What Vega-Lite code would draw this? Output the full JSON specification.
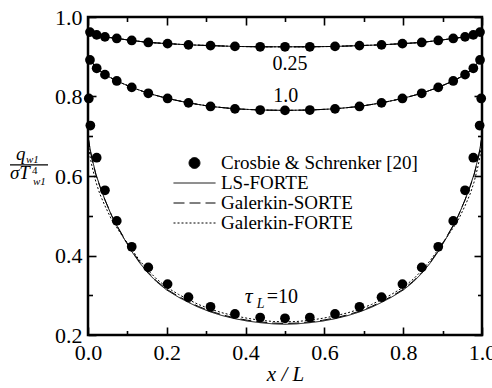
{
  "$schema": "https://vega.github.io/schema/vega-lite/v6.json",
  "width": 394,
  "height": 318,
  "autosize": {"type": "none"},
  "padding": {"left": 88, "top": 17, "right": 10, "bottom": 53},
  "background": "white",
  "config": {
    "view": {"stroke": "black", "strokeWidth": 2.5},
    "axis": {
      "grid": false,
      "domain": false,
      "tickColor": "black",
      "tickWidth": 1.6,
      "labelColor": "black",
      "labelFont": "Liberation Serif",
      "labelFontSize": 22,
      "labelOverlap": false,
      "labelFlush": false,
      "labelBound": false,
      "titleColor": "black",
      "titleFont": "Liberation Serif",
      "titleFontWeight": "normal"
    }
  },
  "datasets": {
    "dots": [
      {"s": "0.25", "x": 0.005, "y": 0.962}, {"s": "0.25", "x": 0.022, "y": 0.955}, {"s": "0.25", "x": 0.043, "y": 0.950}, {"s": "0.25", "x": 0.073, "y": 0.946}, {"s": "0.25", "x": 0.111, "y": 0.941}, {"s": "0.25", "x": 0.153, "y": 0.936}, {"s": "0.25", "x": 0.202, "y": 0.933}, {"s": "0.25", "x": 0.255, "y": 0.930}, {"s": "0.25", "x": 0.311, "y": 0.928}, {"s": "0.25", "x": 0.373, "y": 0.926}, {"s": "0.25", "x": 0.437, "y": 0.925}, {"s": "0.25", "x": 0.5, "y": 0.925}, {"s": "0.25", "x": 0.563, "y": 0.925}, {"s": "0.25", "x": 0.627, "y": 0.926}, {"s": "0.25", "x": 0.689, "y": 0.928}, {"s": "0.25", "x": 0.745, "y": 0.930}, {"s": "0.25", "x": 0.798, "y": 0.933}, {"s": "0.25", "x": 0.847, "y": 0.936}, {"s": "0.25", "x": 0.889, "y": 0.941}, {"s": "0.25", "x": 0.927, "y": 0.946}, {"s": "0.25", "x": 0.957, "y": 0.950}, {"s": "0.25", "x": 0.978, "y": 0.955}, {"s": "0.25", "x": 0.995, "y": 0.962},
      {"s": "1.0", "x": 0.005, "y": 0.892}, {"s": "1.0", "x": 0.022, "y": 0.871}, {"s": "1.0", "x": 0.043, "y": 0.855}, {"s": "1.0", "x": 0.073, "y": 0.839}, {"s": "1.0", "x": 0.111, "y": 0.823}, {"s": "1.0", "x": 0.153, "y": 0.808}, {"s": "1.0", "x": 0.202, "y": 0.795}, {"s": "1.0", "x": 0.255, "y": 0.784}, {"s": "1.0", "x": 0.311, "y": 0.775}, {"s": "1.0", "x": 0.373, "y": 0.769}, {"s": "1.0", "x": 0.437, "y": 0.766}, {"s": "1.0", "x": 0.5, "y": 0.765}, {"s": "1.0", "x": 0.563, "y": 0.766}, {"s": "1.0", "x": 0.627, "y": 0.769}, {"s": "1.0", "x": 0.689, "y": 0.775}, {"s": "1.0", "x": 0.745, "y": 0.784}, {"s": "1.0", "x": 0.798, "y": 0.795}, {"s": "1.0", "x": 0.847, "y": 0.808}, {"s": "1.0", "x": 0.889, "y": 0.823}, {"s": "1.0", "x": 0.927, "y": 0.839}, {"s": "1.0", "x": 0.957, "y": 0.855}, {"s": "1.0", "x": 0.978, "y": 0.871}, {"s": "1.0", "x": 0.995, "y": 0.892},
      {"s": "10", "x": 0.002, "y": 0.795}, {"s": "10", "x": 0.006, "y": 0.727}, {"s": "10", "x": 0.022, "y": 0.646}, {"s": "10", "x": 0.043, "y": 0.564}, {"s": "10", "x": 0.073, "y": 0.487}, {"s": "10", "x": 0.111, "y": 0.422}, {"s": "10", "x": 0.153, "y": 0.370}, {"s": "10", "x": 0.202, "y": 0.328}, {"s": "10", "x": 0.255, "y": 0.295}, {"s": "10", "x": 0.311, "y": 0.271}, {"s": "10", "x": 0.373, "y": 0.253}, {"s": "10", "x": 0.437, "y": 0.244}, {"s": "10", "x": 0.5, "y": 0.242}, {"s": "10", "x": 0.563, "y": 0.244}, {"s": "10", "x": 0.627, "y": 0.253}, {"s": "10", "x": 0.689, "y": 0.271}, {"s": "10", "x": 0.745, "y": 0.295}, {"s": "10", "x": 0.798, "y": 0.328}, {"s": "10", "x": 0.847, "y": 0.370}, {"s": "10", "x": 0.889, "y": 0.422}, {"s": "10", "x": 0.927, "y": 0.487}, {"s": "10", "x": 0.957, "y": 0.564}, {"s": "10", "x": 0.978, "y": 0.646}, {"s": "10", "x": 0.994, "y": 0.727}, {"s": "10", "x": 0.998, "y": 0.795}
    ],
    "lines": [
      {"s": "0.25", "x": 0, "LS-FORTE": 0.967, "Galerkin-SORTE": 0.967, "Galerkin-FORTE": 0.967},
      {"s": "0.25", "x": 0.005, "LS-FORTE": 0.962, "Galerkin-SORTE": 0.962, "Galerkin-FORTE": 0.962},
      {"s": "0.25", "x": 0.022, "LS-FORTE": 0.955, "Galerkin-SORTE": 0.955, "Galerkin-FORTE": 0.955},
      {"s": "0.25", "x": 0.043, "LS-FORTE": 0.950, "Galerkin-SORTE": 0.950, "Galerkin-FORTE": 0.950},
      {"s": "0.25", "x": 0.073, "LS-FORTE": 0.946, "Galerkin-SORTE": 0.946, "Galerkin-FORTE": 0.946},
      {"s": "0.25", "x": 0.111, "LS-FORTE": 0.941, "Galerkin-SORTE": 0.941, "Galerkin-FORTE": 0.941},
      {"s": "0.25", "x": 0.153, "LS-FORTE": 0.936, "Galerkin-SORTE": 0.936, "Galerkin-FORTE": 0.936},
      {"s": "0.25", "x": 0.202, "LS-FORTE": 0.933, "Galerkin-SORTE": 0.933, "Galerkin-FORTE": 0.933},
      {"s": "0.25", "x": 0.255, "LS-FORTE": 0.930, "Galerkin-SORTE": 0.930, "Galerkin-FORTE": 0.930},
      {"s": "0.25", "x": 0.311, "LS-FORTE": 0.928, "Galerkin-SORTE": 0.928, "Galerkin-FORTE": 0.928},
      {"s": "0.25", "x": 0.373, "LS-FORTE": 0.926, "Galerkin-SORTE": 0.926, "Galerkin-FORTE": 0.926},
      {"s": "0.25", "x": 0.437, "LS-FORTE": 0.925, "Galerkin-SORTE": 0.925, "Galerkin-FORTE": 0.925},
      {"s": "0.25", "x": 0.5, "LS-FORTE": 0.925, "Galerkin-SORTE": 0.925, "Galerkin-FORTE": 0.925},
      {"s": "0.25", "x": 0.563, "LS-FORTE": 0.925, "Galerkin-SORTE": 0.925, "Galerkin-FORTE": 0.925},
      {"s": "0.25", "x": 0.627, "LS-FORTE": 0.926, "Galerkin-SORTE": 0.926, "Galerkin-FORTE": 0.926},
      {"s": "0.25", "x": 0.689, "LS-FORTE": 0.928, "Galerkin-SORTE": 0.928, "Galerkin-FORTE": 0.928},
      {"s": "0.25", "x": 0.745, "LS-FORTE": 0.930, "Galerkin-SORTE": 0.930, "Galerkin-FORTE": 0.930},
      {"s": "0.25", "x": 0.798, "LS-FORTE": 0.933, "Galerkin-SORTE": 0.933, "Galerkin-FORTE": 0.933},
      {"s": "0.25", "x": 0.847, "LS-FORTE": 0.936, "Galerkin-SORTE": 0.936, "Galerkin-FORTE": 0.936},
      {"s": "0.25", "x": 0.889, "LS-FORTE": 0.941, "Galerkin-SORTE": 0.941, "Galerkin-FORTE": 0.941},
      {"s": "0.25", "x": 0.927, "LS-FORTE": 0.946, "Galerkin-SORTE": 0.946, "Galerkin-FORTE": 0.946},
      {"s": "0.25", "x": 0.957, "LS-FORTE": 0.950, "Galerkin-SORTE": 0.950, "Galerkin-FORTE": 0.950},
      {"s": "0.25", "x": 0.978, "LS-FORTE": 0.955, "Galerkin-SORTE": 0.955, "Galerkin-FORTE": 0.955},
      {"s": "0.25", "x": 0.995, "LS-FORTE": 0.962, "Galerkin-SORTE": 0.962, "Galerkin-FORTE": 0.962},
      {"s": "0.25", "x": 1, "LS-FORTE": 0.967, "Galerkin-SORTE": 0.967, "Galerkin-FORTE": 0.967},
      {"s": "1.0", "x": 0, "LS-FORTE": 0.900, "Galerkin-SORTE": 0.900, "Galerkin-FORTE": 0.900},
      {"s": "1.0", "x": 0.005, "LS-FORTE": 0.892, "Galerkin-SORTE": 0.892, "Galerkin-FORTE": 0.892},
      {"s": "1.0", "x": 0.022, "LS-FORTE": 0.871, "Galerkin-SORTE": 0.871, "Galerkin-FORTE": 0.871},
      {"s": "1.0", "x": 0.043, "LS-FORTE": 0.855, "Galerkin-SORTE": 0.855, "Galerkin-FORTE": 0.855},
      {"s": "1.0", "x": 0.073, "LS-FORTE": 0.839, "Galerkin-SORTE": 0.839, "Galerkin-FORTE": 0.839},
      {"s": "1.0", "x": 0.111, "LS-FORTE": 0.823, "Galerkin-SORTE": 0.823, "Galerkin-FORTE": 0.823},
      {"s": "1.0", "x": 0.153, "LS-FORTE": 0.808, "Galerkin-SORTE": 0.808, "Galerkin-FORTE": 0.808},
      {"s": "1.0", "x": 0.202, "LS-FORTE": 0.795, "Galerkin-SORTE": 0.795, "Galerkin-FORTE": 0.795},
      {"s": "1.0", "x": 0.255, "LS-FORTE": 0.784, "Galerkin-SORTE": 0.784, "Galerkin-FORTE": 0.784},
      {"s": "1.0", "x": 0.311, "LS-FORTE": 0.775, "Galerkin-SORTE": 0.775, "Galerkin-FORTE": 0.775},
      {"s": "1.0", "x": 0.373, "LS-FORTE": 0.769, "Galerkin-SORTE": 0.769, "Galerkin-FORTE": 0.769},
      {"s": "1.0", "x": 0.437, "LS-FORTE": 0.766, "Galerkin-SORTE": 0.766, "Galerkin-FORTE": 0.766},
      {"s": "1.0", "x": 0.5, "LS-FORTE": 0.765, "Galerkin-SORTE": 0.765, "Galerkin-FORTE": 0.765},
      {"s": "1.0", "x": 0.563, "LS-FORTE": 0.766, "Galerkin-SORTE": 0.766, "Galerkin-FORTE": 0.766},
      {"s": "1.0", "x": 0.627, "LS-FORTE": 0.769, "Galerkin-SORTE": 0.769, "Galerkin-FORTE": 0.769},
      {"s": "1.0", "x": 0.689, "LS-FORTE": 0.775, "Galerkin-SORTE": 0.775, "Galerkin-FORTE": 0.775},
      {"s": "1.0", "x": 0.745, "LS-FORTE": 0.784, "Galerkin-SORTE": 0.784, "Galerkin-FORTE": 0.784},
      {"s": "1.0", "x": 0.798, "LS-FORTE": 0.795, "Galerkin-SORTE": 0.795, "Galerkin-FORTE": 0.795},
      {"s": "1.0", "x": 0.847, "LS-FORTE": 0.808, "Galerkin-SORTE": 0.808, "Galerkin-FORTE": 0.808},
      {"s": "1.0", "x": 0.889, "LS-FORTE": 0.823, "Galerkin-SORTE": 0.823, "Galerkin-FORTE": 0.823},
      {"s": "1.0", "x": 0.927, "LS-FORTE": 0.839, "Galerkin-SORTE": 0.839, "Galerkin-FORTE": 0.839},
      {"s": "1.0", "x": 0.957, "LS-FORTE": 0.855, "Galerkin-SORTE": 0.855, "Galerkin-FORTE": 0.855},
      {"s": "1.0", "x": 0.978, "LS-FORTE": 0.871, "Galerkin-SORTE": 0.871, "Galerkin-FORTE": 0.871},
      {"s": "1.0", "x": 0.995, "LS-FORTE": 0.892, "Galerkin-SORTE": 0.892, "Galerkin-FORTE": 0.892},
      {"s": "1.0", "x": 1, "LS-FORTE": 0.900, "Galerkin-SORTE": 0.900, "Galerkin-FORTE": 0.900},
      {"s": "10", "x": 0, "LS-FORTE": 0.700, "Galerkin-SORTE": 0.700, "Galerkin-FORTE": 0.690},
      {"s": "10", "x": 0.005, "LS-FORTE": 0.670, "Galerkin-SORTE": 0.668, "Galerkin-FORTE": 0.650},
      {"s": "10", "x": 0.01, "LS-FORTE": 0.645, "Galerkin-SORTE": 0.643, "Galerkin-FORTE": 0.625},
      {"s": "10", "x": 0.02, "LS-FORTE": 0.605, "Galerkin-SORTE": 0.603, "Galerkin-FORTE": 0.585},
      {"s": "10", "x": 0.03, "LS-FORTE": 0.575, "Galerkin-SORTE": 0.574, "Galerkin-FORTE": 0.555},
      {"s": "10", "x": 0.043, "LS-FORTE": 0.540, "Galerkin-SORTE": 0.540, "Galerkin-FORTE": 0.525},
      {"s": "10", "x": 0.06, "LS-FORTE": 0.500, "Galerkin-SORTE": 0.501, "Galerkin-FORTE": 0.490},
      {"s": "10", "x": 0.073, "LS-FORTE": 0.475, "Galerkin-SORTE": 0.476, "Galerkin-FORTE": 0.470},
      {"s": "10", "x": 0.09, "LS-FORTE": 0.445, "Galerkin-SORTE": 0.447, "Galerkin-FORTE": 0.445},
      {"s": "10", "x": 0.109, "LS-FORTE": 0.413, "Galerkin-SORTE": 0.415, "Galerkin-FORTE": 0.418},
      {"s": "10", "x": 0.13, "LS-FORTE": 0.383, "Galerkin-SORTE": 0.385, "Galerkin-FORTE": 0.389},
      {"s": "10", "x": 0.152, "LS-FORTE": 0.356, "Galerkin-SORTE": 0.358, "Galerkin-FORTE": 0.363},
      {"s": "10", "x": 0.175, "LS-FORTE": 0.333, "Galerkin-SORTE": 0.335, "Galerkin-FORTE": 0.340},
      {"s": "10", "x": 0.2, "LS-FORTE": 0.313, "Galerkin-SORTE": 0.315, "Galerkin-FORTE": 0.320},
      {"s": "10", "x": 0.23, "LS-FORTE": 0.295, "Galerkin-SORTE": 0.297, "Galerkin-FORTE": 0.302},
      {"s": "10", "x": 0.255, "LS-FORTE": 0.282, "Galerkin-SORTE": 0.284, "Galerkin-FORTE": 0.289},
      {"s": "10", "x": 0.28, "LS-FORTE": 0.270, "Galerkin-SORTE": 0.272, "Galerkin-FORTE": 0.277},
      {"s": "10", "x": 0.311, "LS-FORTE": 0.258, "Galerkin-SORTE": 0.260, "Galerkin-FORTE": 0.265},
      {"s": "10", "x": 0.34, "LS-FORTE": 0.249, "Galerkin-SORTE": 0.251, "Galerkin-FORTE": 0.256},
      {"s": "10", "x": 0.373, "LS-FORTE": 0.241, "Galerkin-SORTE": 0.243, "Galerkin-FORTE": 0.248},
      {"s": "10", "x": 0.405, "LS-FORTE": 0.235, "Galerkin-SORTE": 0.237, "Galerkin-FORTE": 0.242},
      {"s": "10", "x": 0.437, "LS-FORTE": 0.231, "Galerkin-SORTE": 0.233, "Galerkin-FORTE": 0.237},
      {"s": "10", "x": 0.47, "LS-FORTE": 0.228, "Galerkin-SORTE": 0.230, "Galerkin-FORTE": 0.234},
      {"s": "10", "x": 0.5, "LS-FORTE": 0.227, "Galerkin-SORTE": 0.229, "Galerkin-FORTE": 0.233},
      {"s": "10", "x": 0.53, "LS-FORTE": 0.228, "Galerkin-SORTE": 0.230, "Galerkin-FORTE": 0.234},
      {"s": "10", "x": 0.563, "LS-FORTE": 0.231, "Galerkin-SORTE": 0.233, "Galerkin-FORTE": 0.237},
      {"s": "10", "x": 0.595, "LS-FORTE": 0.235, "Galerkin-SORTE": 0.237, "Galerkin-FORTE": 0.242},
      {"s": "10", "x": 0.627, "LS-FORTE": 0.241, "Galerkin-SORTE": 0.243, "Galerkin-FORTE": 0.248},
      {"s": "10", "x": 0.66, "LS-FORTE": 0.249, "Galerkin-SORTE": 0.251, "Galerkin-FORTE": 0.256},
      {"s": "10", "x": 0.689, "LS-FORTE": 0.258, "Galerkin-SORTE": 0.260, "Galerkin-FORTE": 0.265},
      {"s": "10", "x": 0.72, "LS-FORTE": 0.270, "Galerkin-SORTE": 0.272, "Galerkin-FORTE": 0.277},
      {"s": "10", "x": 0.745, "LS-FORTE": 0.282, "Galerkin-SORTE": 0.284, "Galerkin-FORTE": 0.289},
      {"s": "10", "x": 0.77, "LS-FORTE": 0.295, "Galerkin-SORTE": 0.297, "Galerkin-FORTE": 0.302},
      {"s": "10", "x": 0.8, "LS-FORTE": 0.313, "Galerkin-SORTE": 0.315, "Galerkin-FORTE": 0.320},
      {"s": "10", "x": 0.825, "LS-FORTE": 0.333, "Galerkin-SORTE": 0.335, "Galerkin-FORTE": 0.340},
      {"s": "10", "x": 0.848, "LS-FORTE": 0.356, "Galerkin-SORTE": 0.358, "Galerkin-FORTE": 0.363},
      {"s": "10", "x": 0.87, "LS-FORTE": 0.383, "Galerkin-SORTE": 0.385, "Galerkin-FORTE": 0.389},
      {"s": "10", "x": 0.891, "LS-FORTE": 0.413, "Galerkin-SORTE": 0.415, "Galerkin-FORTE": 0.418},
      {"s": "10", "x": 0.91, "LS-FORTE": 0.445, "Galerkin-SORTE": 0.447, "Galerkin-FORTE": 0.445},
      {"s": "10", "x": 0.927, "LS-FORTE": 0.475, "Galerkin-SORTE": 0.476, "Galerkin-FORTE": 0.470},
      {"s": "10", "x": 0.94, "LS-FORTE": 0.500, "Galerkin-SORTE": 0.501, "Galerkin-FORTE": 0.490},
      {"s": "10", "x": 0.957, "LS-FORTE": 0.540, "Galerkin-SORTE": 0.540, "Galerkin-FORTE": 0.525},
      {"s": "10", "x": 0.97, "LS-FORTE": 0.575, "Galerkin-SORTE": 0.574, "Galerkin-FORTE": 0.555},
      {"s": "10", "x": 0.98, "LS-FORTE": 0.605, "Galerkin-SORTE": 0.603, "Galerkin-FORTE": 0.585},
      {"s": "10", "x": 0.99, "LS-FORTE": 0.645, "Galerkin-SORTE": 0.643, "Galerkin-FORTE": 0.625},
      {"s": "10", "x": 0.995, "LS-FORTE": 0.670, "Galerkin-SORTE": 0.668, "Galerkin-FORTE": 0.650},
      {"s": "10", "x": 1, "LS-FORTE": 0.700, "Galerkin-SORTE": 0.700, "Galerkin-FORTE": 0.690}
    ],
    "ann": [
      {"x": 0.513, "y": 0.867, "t": "0.25"},
      {"x": 0.502, "y": 0.787, "t": "1.0"}
    ],
    "tau": [{"x": 0.398, "y": 0.28}],
    "ytitle": [{"x": -0.15, "y": 0.628}],
    "bar": [{"x": -0.198, "x2": -0.1015, "y": 0.628}]
  },
  "resolve": {"axis": {"x": "independent", "y": "independent"}},
  "layer": [
    {
      "data": {"name": "lines"},
      "transform": [{"fold": ["LS-FORTE", "Galerkin-SORTE", "Galerkin-FORTE"], "as": ["m", "y"]}],
      "mark": {"type": "line", "color": "black"},
      "encoding": {
        "x": {
          "field": "x", "type": "quantitative",
          "scale": {"domain": [0, 1], "nice": false, "zero": false},
          "axis": {
            "orient": "bottom",
            "values": [0, 0.1, 0.2, 0.3, 0.4, 0.5, 0.6, 0.7, 0.8, 0.9, 1.0],
            "labelExpr": "round(datum.value*10) % 2 == 0 ? format(datum.value, '.1f') : ''",
            "tickSize": {"condition": {"test": "round(datum.value*10) % 2 == 0", "value": -8}, "value": -4.5},
            "labelPadding": 15,
            "title": "x / L",
            "titleFontStyle": "italic",
            "titleFontSize": 21,
            "titlePadding": -3
          }
        },
        "y": {
          "field": "y", "type": "quantitative",
          "scale": {"domain": [0.2, 1.0], "nice": false, "zero": false},
          "axis": {
            "orient": "left",
            "values": [0.2, 0.3, 0.4, 0.5, 0.6, 0.7, 0.8, 0.9, 1.0],
            "labelExpr": "round(datum.value*10) % 2 == 0 ? format(datum.value, '.1f') : ''",
            "tickSize": {"condition": {"test": "round(datum.value*10) % 2 == 0", "value": -8}, "value": -4.5},
            "labelPadding": 14,
            "title": null
          }
        },
        "detail": {"field": "s"},
        "strokeDash": {
          "field": "m", "type": "nominal",
          "scale": {
            "domain": ["Crosbie & Schrenker [20]", "LS-FORTE", "Galerkin-SORTE", "Galerkin-FORTE"],
            "range": [[1, 0], [1, 0], [11, 5], [2, 2]]
          },
          "legend": {
            "orient": "none",
            "legendX": 85,
            "legendY": 136,
            "title": null,
            "symbolType": "stroke",
            "symbolSize": 1764,
            "symbolStrokeColor": "black",
            "symbolStrokeWidth": 1,
            "clipHeight": 20,
            "rowPadding": 0,
            "labelOffset": 5,
            "labelFont": "Liberation Serif",
            "labelFontSize": 19,
            "labelColor": "black",
            "labelLimit": 400,
            "padding": 0,
            "encode": {
              "symbols": {
                "update": {
                  "shape": {"signal": "datum.value === 'Crosbie & Schrenker [20]' ? 'circle' : 'stroke'"},
                  "size": {"signal": "datum.value === 'Crosbie & Schrenker [20]' ? 120 : 1764"},
                  "strokeWidth": {"signal": "datum.value === 'Galerkin-SORTE' ? 2.4 : 1"},
                  "fill": {"value": "black"},
                  "stroke": {"value": "black"}
                }
              }
            }
          }
        },
        "strokeWidth": {
          "field": "m", "type": "nominal",
          "scale": {
            "domain": ["Crosbie & Schrenker [20]", "LS-FORTE", "Galerkin-SORTE", "Galerkin-FORTE"],
            "range": [1, 1, 1.6, 1]
          },
          "legend": null
        }
      }
    },
    {
      "data": {"name": "dots"},
      "mark": {"type": "point", "filled": true, "color": "black", "opacity": 1, "size": 95},
      "encoding": {
        "x": {
          "field": "x", "type": "quantitative",
          "scale": {"domain": [0, 1], "nice": false, "zero": false},
          "axis": {
            "orient": "top",
            "values": [0, 0.1, 0.2, 0.3, 0.4, 0.5, 0.6, 0.7, 0.8, 0.9, 1.0],
            "labels": false,
            "tickSize": {"condition": {"test": "round(datum.value*10) % 2 == 0", "value": -8}, "value": -4.5},
            "title": null
          }
        },
        "y": {
          "field": "y", "type": "quantitative",
          "scale": {"domain": [0.2, 1.0], "nice": false, "zero": false},
          "axis": {
            "orient": "right",
            "values": [0.2, 0.3, 0.4, 0.5, 0.6, 0.7, 0.8, 0.9, 1.0],
            "labels": false,
            "tickSize": {"condition": {"test": "round(datum.value*10) % 2 == 0", "value": -8}, "value": -4.5},
            "title": null
          }
        }
      }
    },
    {
      "data": {"name": "ann"},
      "mark": {"type": "text", "font": "Liberation Serif", "fontSize": 20, "align": "center", "baseline": "alphabetic", "color": "black"},
      "encoding": {
        "x": {"field": "x", "type": "quantitative", "scale": {"domain": [0, 1], "nice": false, "zero": false}, "axis": null},
        "y": {"field": "y", "type": "quantitative", "scale": {"domain": [0.2, 1.0], "nice": false, "zero": false}, "axis": null},
        "text": {"field": "t"}
      }
    },
    {
      "data": {"name": "tau"},
      "layer": [
        {"mark": {"type": "text", "text": "τ", "font": "Liberation Serif", "fontStyle": "italic", "fontSize": 22, "align": "left", "baseline": "alphabetic", "color": "black"}},
        {"mark": {"type": "text", "text": "L", "font": "Liberation Serif", "fontStyle": "italic", "fontSize": 14, "align": "left", "baseline": "alphabetic", "dx": 12, "dy": 5, "color": "black"}},
        {"mark": {"type": "text", "text": "=10", "font": "Liberation Serif", "fontSize": 20, "align": "left", "baseline": "alphabetic", "dx": 22, "dy": 0, "color": "black"}}
      ],
      "encoding": {
        "x": {"field": "x", "type": "quantitative", "scale": {"domain": [0, 1], "nice": false, "zero": false}, "axis": null},
        "y": {"field": "y", "type": "quantitative", "scale": {"domain": [0.2, 1.0], "nice": false, "zero": false}, "axis": null}
      }
    },
    {
      "data": {"name": "ytitle"},
      "layer": [
        {"mark": {"type": "text", "text": "q", "font": "Liberation Serif", "fontStyle": "italic", "fontSize": 19, "align": "left", "baseline": "alphabetic", "dx": -13, "dy": -5, "color": "black"}},
        {"mark": {"type": "text", "text": "w1", "font": "Liberation Serif", "fontStyle": "italic", "fontSize": 11, "align": "left", "baseline": "alphabetic", "dx": -3, "dy": -2, "color": "black"}},
        {"mark": {"type": "text", "text": "σT", "font": "Liberation Serif", "fontStyle": "italic", "fontSize": 19, "align": "left", "baseline": "alphabetic", "dx": -19, "dy": 14.5, "color": "black"}},
        {"mark": {"type": "text", "text": "4", "font": "Liberation Serif", "fontSize": 11, "align": "left", "baseline": "alphabetic", "dx": 3, "dy": 9, "color": "black"}},
        {"mark": {"type": "text", "text": "w1", "font": "Liberation Serif", "fontStyle": "italic", "fontSize": 11, "align": "left", "baseline": "alphabetic", "dx": 4, "dy": 20, "color": "black"}}
      ],
      "encoding": {
        "x": {"field": "x", "type": "quantitative", "scale": {"domain": [0, 1], "nice": false, "zero": false}, "axis": null},
        "y": {"field": "y", "type": "quantitative", "scale": {"domain": [0.2, 1.0], "nice": false, "zero": false}, "axis": null}
      }
    },
    {
      "data": {"name": "bar"},
      "mark": {"type": "rule", "color": "black", "strokeWidth": 1.2},
      "encoding": {
        "x": {"field": "x", "type": "quantitative", "scale": {"domain": [0, 1], "nice": false, "zero": false}, "axis": null},
        "x2": {"field": "x2"},
        "y": {"field": "y", "type": "quantitative", "scale": {"domain": [0.2, 1.0], "nice": false, "zero": false}, "axis": null}
      }
    }
  ]
}
